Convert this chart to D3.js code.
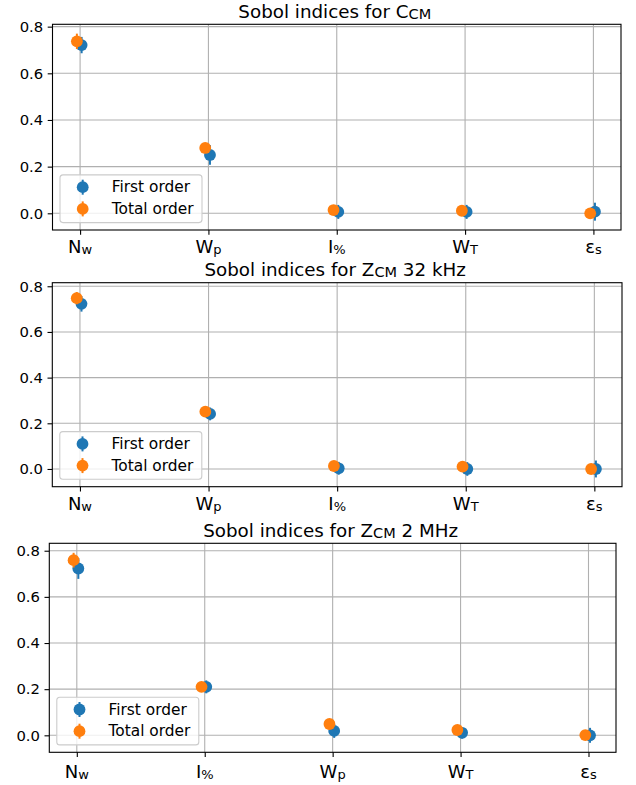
<!DOCTYPE html>
<html>
<head>
<meta charset="utf-8">
<script src="https://cdn.jsdelivr.net/npm/d3@7"></script>
<style>
  html, body { margin: 0; padding: 0; background: #fff; }
  svg { display: block; font-family: "DejaVu Sans", sans-serif; }
</style>
</head>
<body>
<svg id="chart" width="636" height="785"></svg>
<script>
// ---- data -------------------------------------------------------------
// Category labels: [base, subscript]
const catsA = [["N", "w"], ["W", "p"], ["I", "%"], ["W", "T"], ["ε", "s"]];
const catsB = [["N", "w"], ["I", "%"], ["W", "p"], ["W", "T"], ["ε", "s"]];

// Titles: [prefix, subscript, suffix]
const titleCcm  = ["Sobol indices for C", "CM", ""];
const titleZ32k = ["Sobol indices for Z", "CM", " 32 kHz"];
const titleZ2M  = ["Sobol indices for Z", "CM", " 2 MHz"];

// C_CM
const firstCcm    = [0.721, 0.250, 0.006, 0.006, 0.007];
const firstCcmErr = [0.035, 0.042, 0.030, 0.030, 0.0385];
const totalCcm    = [0.737, 0.280, 0.014, 0.011, 0.000];
const totalCcmErr = [0.033, 0.014, 0.012, 0.012, 0.012];

// Z_CM at 32 kHz
const firstZ32k    = [0.723, 0.241, 0.003, 0.000, 0.000];
const firstZ32kErr = [0.034, 0.028, 0.028, 0.030, 0.037];
const totalZ32k    = [0.748, 0.251, 0.013, 0.010, 0.000];
const totalZ32kErr = [0.027, 0.012, 0.010, 0.010, 0.010];

// Z_CM at 2 MHz
const firstZ2M    = [0.723, 0.210, 0.019, 0.011, 0.000];
const firstZ2MErr = [0.045, 0.028, 0.030, 0.025, 0.0324];
const totalZ2M    = [0.759, 0.210, 0.049, 0.023, 0.001];
const totalZ2MErr = [0.032, 0.015, 0.012, 0.012, 0.010];

const yTicks = [0.0, 0.2, 0.4, 0.6, 0.8];
const seriesNames = ["First order", "Total order"];

// ---- styling / layout ----------------------------------------------------
const colors = ["#1f77b4", "#ff7f0e"];
const xShift = [0.012, -0.025];          // small horizontal dodge per series
const gridColor = "#b0b0b0";

const panels = [
  { title: titleCcm,  cats: catsA, first: firstCcm,  firstErr: firstCcmErr,  total: totalCcm,  totalErr: totalCcmErr,
    box: { left: 52.5, right: 621, top: 24.3, bottom: 230 }, labelGap: 22.5 },
  { title: titleZ32k, cats: catsA, first: firstZ32k, firstErr: firstZ32kErr, total: totalZ32k, totalErr: totalZ32kErr,
    box: { left: 52.3, right: 622, top: 282.7, bottom: 486.7 }, labelGap: 23.5 },
  { title: titleZ2M,  cats: catsB, first: firstZ2M,  firstErr: firstZ2MErr,  total: totalZ2M,  totalErr: totalZ2MErr,
    box: { left: 49.3, right: 616, top: 543.3, bottom: 752.3 }, labelGap: 25.5 }
];

const svg = d3.select("#chart");

panels.forEach(p => {
  const b = p.box;
  const g = svg.append("g");

  // y extent from data incl. error bars, with 5% padding
  const lows = p.first.map((v, i) => v - p.firstErr[i]).concat(p.total.map((v, i) => v - p.totalErr[i]));
  const highs = p.first.map((v, i) => v + p.firstErr[i]).concat(p.total.map((v, i) => v + p.totalErr[i]));
  const lo = d3.min(lows), hi = d3.max(highs), pad = 0.05 * (hi - lo);

  const x = d3.scaleLinear().domain([-0.215, 4.215]).range([b.left, b.right]);
  const y = d3.scaleLinear().domain([lo - pad, hi + pad]).range([b.bottom, b.top]);

  // grid
  g.append("g").selectAll("line").data(p.cats.map((c, i) => i)).join("line")
    .attr("x1", d => x(d)).attr("x2", d => x(d))
    .attr("y1", b.top).attr("y2", b.bottom)
    .attr("stroke", gridColor).attr("stroke-width", 1.1);
  g.append("g").selectAll("line").data(yTicks).join("line")
    .attr("x1", b.left).attr("x2", b.right)
    .attr("y1", d => y(d)).attr("y2", d => y(d))
    .attr("stroke", gridColor).attr("stroke-width", 1.1);

  // y axis
  const yAxis = g.append("g").attr("transform", `translate(${b.left},0)`)
    .call(d3.axisLeft(y).tickValues(yTicks).tickFormat(d3.format(".1f")).tickSizeOuter(0).tickSize(4.8).tickPadding(4.5));
  yAxis.select(".domain").remove();
  yAxis.selectAll(".tick line").attr("stroke", "#000").attr("stroke-width", 1.1);
  yAxis.selectAll(".tick text").attr("font-size", "14.8px").attr("fill", "#000")
    .attr("font-family", "DejaVu Sans");

  // x axis ticks
  const xAxis = g.append("g").attr("transform", `translate(0,${b.bottom})`)
    .call(d3.axisBottom(x).tickValues(p.cats.map((c, i) => i)).tickFormat("").tickSizeOuter(0).tickSize(4.8));
  xAxis.select(".domain").remove();
  xAxis.selectAll(".tick line").attr("stroke", "#000").attr("stroke-width", 1.1);

  // x labels with subscripts
  p.cats.forEach((c, i) => {
    const t = g.append("text")
      .attr("x", x(i)).attr("y", b.bottom + p.labelGap)
      .attr("text-anchor", "middle").attr("font-size", "18px").attr("fill", "#000");
    t.append("tspan").text(c[0]);
    t.append("tspan").attr("font-size", "13px").attr("dy", "1").text(c[1]);
  });

  // frame
  g.append("rect").attr("x", b.left).attr("y", b.top)
    .attr("width", b.right - b.left).attr("height", b.bottom - b.top)
    .attr("fill", "none").attr("stroke", "#000").attr("stroke-width", 1.1);

  // title
  const tt = g.append("text").attr("x", (b.left + b.right) / 2 - 2).attr("y", b.top - 6.5)
    .attr("text-anchor", "middle").attr("font-size", "18.3px").attr("fill", "#000");
  tt.append("tspan").text(p.title[0]);
  tt.append("tspan").attr("font-size", "14.5px").attr("dy", "1").text(p.title[1]);
  tt.append("tspan").attr("dy", "-1").text(p.title[2]);

  // series: error bars + markers
  const series = [
    { vals: p.first, errs: p.firstErr },
    { vals: p.total, errs: p.totalErr }
  ];
  series.forEach((s, k) => {
    const sg = g.append("g");
    sg.selectAll("line").data(s.vals).join("line")
      .attr("x1", (d, i) => x(i + xShift[k])).attr("x2", (d, i) => x(i + xShift[k]))
      .attr("y1", (d, i) => y(d - s.errs[i])).attr("y2", (d, i) => y(d + s.errs[i]))
      .attr("stroke", colors[k]).attr("stroke-width", 2);
    sg.selectAll("circle").data(s.vals).join("circle")
      .attr("cx", (d, i) => x(i + xShift[k])).attr("cy", d => y(d))
      .attr("r", 5.9).attr("fill", colors[k]);
  });

  // legend
  const lg = g.append("g").attr("transform", `translate(${b.left + 7.5},${b.bottom - 7.4 - 47.7})`);
  lg.append("rect").attr("width", 142).attr("height", 47.7).attr("rx", 3)
    .attr("fill", "#fff").attr("fill-opacity", 0.8).attr("stroke", "#cccccc").attr("stroke-width", 1.1);
  seriesNames.forEach((name, k) => {
    const cy = 12.3 + k * 21.7;
    lg.append("line").attr("x1", 22.7).attr("x2", 22.7).attr("y1", cy - 7.5).attr("y2", cy + 7.5)
      .attr("stroke", colors[k]).attr("stroke-width", 2);
    lg.append("circle").attr("cx", 22.7).attr("cy", cy).attr("r", 5.9).attr("fill", colors[k]);
    lg.append("text").attr("x", 51.7).attr("y", cy + 5.3).attr("font-size", "15.4px").attr("fill", "#000").text(name);
  });
});
</script>
</body>
</html>
